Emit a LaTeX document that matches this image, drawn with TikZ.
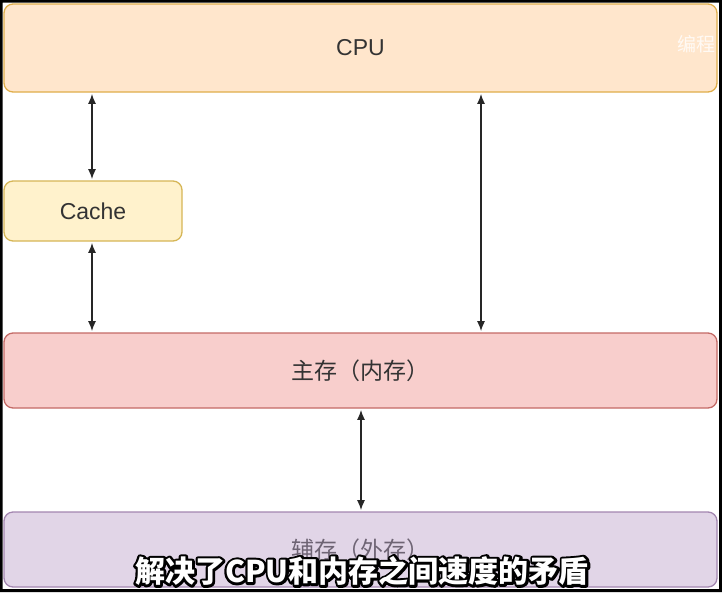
\documentclass[tikz,border=0pt]{standalone}
\usepackage{fontspec}
\setmainfont{Liberation Sans}
\newfontfamily\cjk{Noto Sans CJK SC}
\usetikzlibrary{arrows.meta}
\definecolor{cpufill}{HTML}{FFE6CC}
\definecolor{cpudraw}{HTML}{E0AE4A}
\definecolor{cachefill}{HTML}{FFF2CC}
\definecolor{cachedraw}{HTML}{D6B656}
\definecolor{mainfill}{HTML}{F8CECC}
\definecolor{maindraw}{HTML}{C46A66}
\definecolor{auxfill}{HTML}{E1D5E7}
\definecolor{auxdraw}{HTML}{A386B0}
\definecolor{txt}{HTML}{333333}
\definecolor{auxtxt}{HTML}{6E6474}
\begin{document}
\begin{tikzpicture}[x=1pt,y=-1pt,
  box/.style={draw, rounded corners=9pt, line width=1.3pt, inner sep=0pt, text=txt},
  lbl/.style={font=\fontsize{23}{27}\selectfont},
  link/.style={{Latex[length=10pt,width=8pt]}-{Latex[length=10pt,width=8pt]}, line width=1.4pt, draw=black!85, shorten <=1.2pt, shorten >=1.2pt},
  subt/.style={font=\cjk\bfseries\fontsize{30}{34}\selectfont, inner sep=0pt}]
\useasboundingbox (0,0) rectangle (722,592);
\fill[white] (0,0) rectangle (722,592);
% boxes
\node[box, lbl, fill=cpufill, draw=cpudraw, minimum width=713pt, minimum height=88pt] (cpu) at (360.5,48) {CPU};
\node[box, lbl, fill=cachefill, draw=cachedraw, minimum width=178pt, minimum height=60pt] (cache) at (93,211) {Cache};
\node[box, lbl, fill=mainfill, draw=maindraw, minimum width=713pt, minimum height=75pt] (main) at (360.5,370.5) {\cjk 主存（内存）};
\node[box, lbl, fill=auxfill, draw=auxdraw, minimum width=713pt, minimum height=75pt, text=auxtxt] (aux) at (360.5,549.5) {\cjk 辅存（外存）};
% connector x positions
\coordinate (xa) at (92,0);
\coordinate (xb) at (481,0);
\coordinate (xc) at (361,0);
\draw[link] (cpu.south -| xa) -- (cache.north -| xa);
\draw[link] (cache.south -| xa) -- (main.north -| xa);
\draw[link] (cpu.south -| xb) -- (main.north -| xb);
\draw[link] (main.south -| xc) -- (aux.north -| xc);
% watermark
\node[anchor=west, text=white, opacity=0.8, font=\cjk\fontsize{19}{22}\selectfont, inner sep=0pt] (wm) at (677,44) {编程};
% subtitle: stroked outline then white fill
\node[subt, text=black] (subo) at (362,571) {\special{pdf:literal 1 Tr 5 w 1 j 0 G}解决了CPU和内存之间速度的矛盾\special{pdf:literal 0 Tr}};
\node[subt, text=white] (sub) at (362,571) {解决了CPU和内存之间速度的矛盾};
% frame
\fill[black, even odd rule] (0,0) rectangle (722,592) (2.5,2.5) rectangle (719,589);
\end{tikzpicture}
\end{document}
